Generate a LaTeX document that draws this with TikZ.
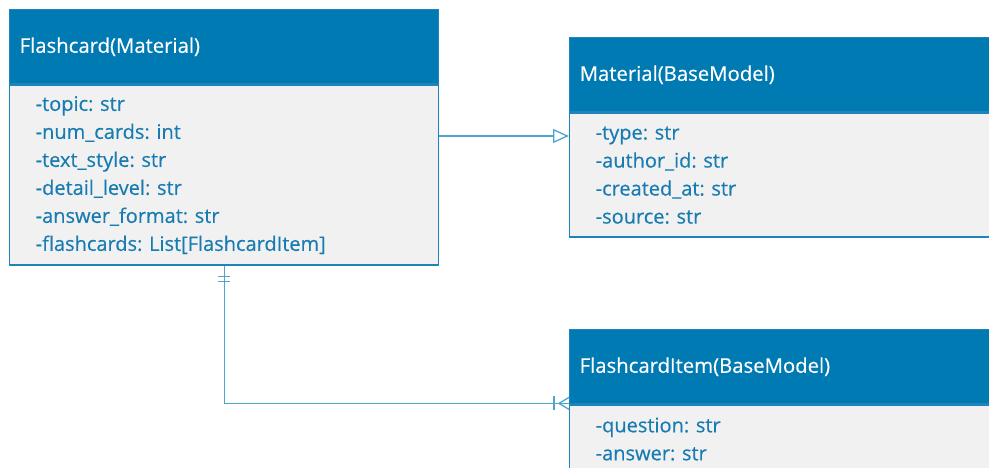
\documentclass[tikz,border=0pt]{standalone}
\usepackage{fontspec}
\setmainfont{Open Sans}[FakeBold=0.4, AutoFakeBold=0.4]
\usetikzlibrary{arrows.meta,calc}
\definecolor{hdr}{RGB}{0,122,178}
\definecolor{bodyfill}{RGB}{241,241,241}
\definecolor{edge}{RGB}{30,132,186}
\definecolor{attr}{RGB}{24,124,178}
\definecolor{link}{RGB}{78,164,205}
\frenchspacing

\begin{document}
\begin{tikzpicture}[x=1pt,y=-1pt,
  classhead/.style={draw=edge, line width=1.4pt, fill=hdr, text=white,
    anchor=north west, minimum height=74pt, text width=#1, align=left,
    inner xsep=10pt, inner ysep=0pt, font=\fontsize{20.3}{24}\selectfont\bfseries},
  classbody/.style={draw=edge, line width=1.4pt, fill=bodyfill, text=attr,
    anchor=north west, text width=#1, align=left,
    inner xsep=26pt, inner ysep=0pt, font=\fontsize{20}{28}\selectfont\bfseries},
  link/.style={draw=link, line width=1.3pt},
  inherit/.style={link, -{Triangle[open, length=16pt, width=14pt, fill=white, line width=1.3pt]}},
]
\clip (0,0) rectangle (989,468);

% Flashcard class
\node[classhead=409pt] (fc-head) at (9,9) {Flashcard(Material)};
\node[classbody=377pt, minimum height=180pt] (fc-body) at (fc-head.south west)
  {-topic: str\\-num\_cards: int\\-text\_style: str\\-detail\_level: str\\-answer\_format: str\\-flashcards: List[FlashcardItem]};

% Material class
\node[classhead=420pt] (mat-head) at (569,37) {Material(BaseModel)};
\node[classbody=388pt, minimum height=124pt] (mat-body) at (mat-head.south west)
  {-type: str\\-author\_id: str\\-created\_at: str\\-source: str};

% FlashcardItem class
\node[classhead=420pt] (item-head) at (569,329) {FlashcardItem(BaseModel)};
\node[classbody=388pt, minimum height=68pt] (item-body) at (item-head.south west)
  {-question: str\\-answer: str};

% generalization: Flashcard -> Material
\coordinate (gen) at (0,136);
\draw[inherit] (fc-body.east |- gen) -- (mat-body.west |- gen);

% composition: Flashcard 1 -- 1..* FlashcardItem
\draw[link] (fc-body.south) |- ($(item-body.north west)+(0,-1)$);
% exactly one
\draw[link] ($(fc-body.south)+(-6,11)$) -- ++(12,0);
\draw[link] ($(fc-body.south)+(-6,16)$) -- ++(12,0);
% one or many
\coordinate (foot) at ($(item-body.north west)+(0,-1)$);
\draw[link] ($(foot)+(-15,-7)$) -- ++(0,14);
\draw[link] ($(foot)+(0,-6)$) -- ($(foot)+(-10,0)$) -- ($(foot)+(0,6)$);
\end{tikzpicture}
\end{document}
